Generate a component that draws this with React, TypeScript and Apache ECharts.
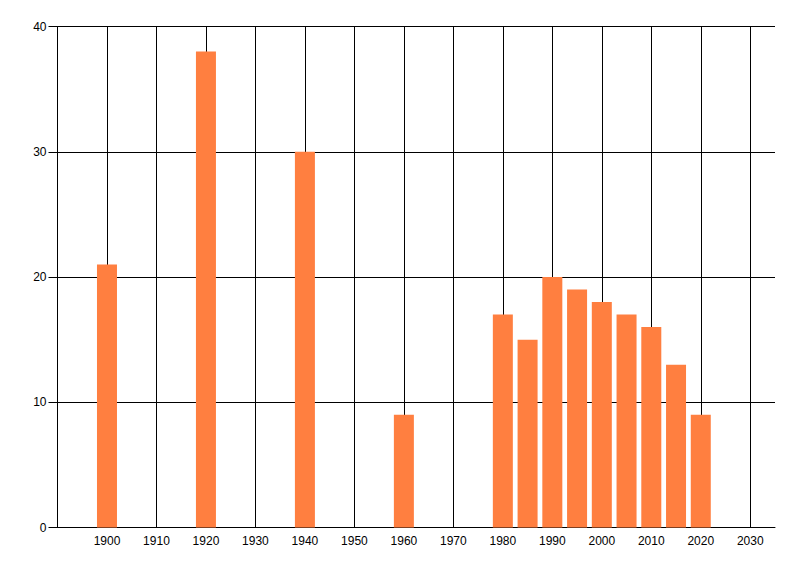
import React, { useEffect, useRef } from "react";
import * as echarts from "echarts";

const years = [1900, 1920, 1940, 1960, 1980, 1985, 1990, 1995, 2000, 2005, 2010, 2015, 2020];
const values = [21, 38, 30, 9, 17, 15, 20, 19, 18, 17, 16, 13, 9];
const xTicks = [1900, 1910, 1920, 1930, 1940, 1950, 1960, 1970, 1980, 1990, 2000, 2010, 2020, 2030];

export default function App() {
  const ref = useRef<HTMLDivElement>(null);
  useEffect(() => {
    if (!ref.current) return;
    const chart = echarts.init(ref.current, null, { renderer: "svg" });
    const font = { fontFamily: "Liberation Sans, Arial, sans-serif", fontSize: 12, color: "#000" };
    chart.setOption({
      animation: false,
      backgroundColor: "#fff",
      grid: { left: 57.5, right: 25, top: 26.5, bottom: 48.5, containLabel: false },
      xAxis: {
        type: "value",
        min: 1890,
        max: 2035,
        interval: 10,
        axisLine: { show: true, lineStyle: { color: "#000", width: 1 } },
        axisTick: { show: false },
        axisLabel: {
          ...font,
          margin: 7,
          showMinLabel: false,
          showMaxLabel: false,
          formatter: (v: number) => String(v),
        },
        splitLine: { show: false },
      },
      yAxis: {
        type: "value",
        min: 0,
        max: 40,
        interval: 10,
        axisLine: { show: true, lineStyle: { color: "#000", width: 1 } },
        axisTick: { show: true, length: 9, lineStyle: { color: "#000" } },
        axisLabel: { ...font, margin: 11, formatter: (v: number) => String(v) },
        splitLine: { show: true, lineStyle: { color: "#000", width: 1 } },
      },
      series: [
        {
          type: "bar",
          data: years.map((y, i) => [y, values[i]]),
          barWidth: 20,
          itemStyle: { color: "#FF7F40" },
          z: 3,
          markLine: {
            silent: true,
            symbol: "none",
            label: { show: false },
            lineStyle: { color: "#000", width: 1, type: "solid" },
            emphasis: { disabled: true },
            data: xTicks.map((t) => ({ xAxis: t })),
            z: 1,
          },
        },
      ],
    });
    return () => chart.dispose();
  }, []);
  return (
    <div
      ref={ref}
      style={{ position: "absolute", left: 0, top: 0, width: 800, height: 576 }}
    />
  );
}
